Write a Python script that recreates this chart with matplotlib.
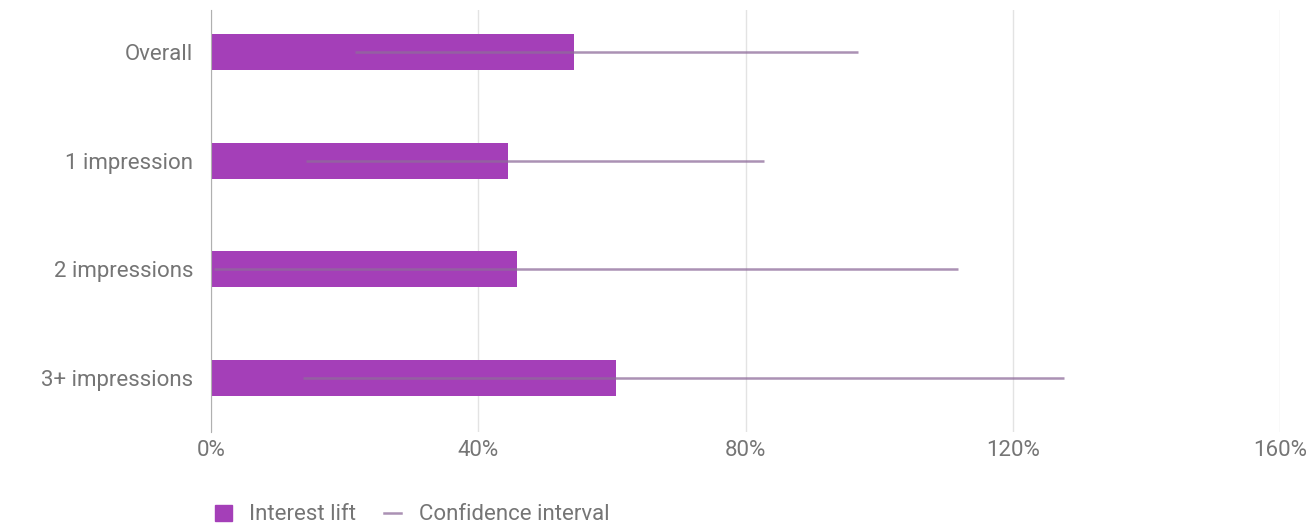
import matplotlib
matplotlib.use("Agg")
import matplotlib.pyplot as plt
from matplotlib.patches import Patch
from matplotlib.lines import Line2D

categories = ["Overall", "1 impression", "2 impressions", "3+ impressions"]
lift = [54.3, 44.5, 45.8, 60.6]
ci_low = [21.5, 14.2, 0.5, 13.7]
ci_high = [96.9, 82.8, 111.8, 127.6]
xticks = [0, 40, 80, 120, 160]

bar_color = "#a43fb8"
ci_color = "#8f6c9b"
text_color = "#757575"

plt.rcParams["font.family"] = ["Roboto", "DejaVu Sans"]

fig = plt.figure(figsize=(13.15, 5.26), dpi=100)
ax = fig.add_axes([0.1605, 0.1787, 0.8129, 0.8023])

ypos = list(range(len(categories)))
ax.barh(ypos, lift, height=0.33, color=bar_color, zorder=2)
ax.hlines(ypos, ci_low, ci_high, colors=ci_color, linewidth=1.8,
          alpha=0.75, zorder=3)

ax.set_xlim(0, 160)
ax.set_ylim(3.5, -0.39)
ax.set_xticks(xticks)
ax.set_xticklabels(["{}%".format(t) for t in xticks])
ax.set_yticks(ypos)
ax.set_yticklabels(categories)
ax.tick_params(axis="both", length=0, colors=text_color, labelsize=16)
ax.tick_params(axis="y", pad=13)
ax.tick_params(axis="x", pad=6)

ax.grid(axis="x", color="#e3e3e3", linewidth=1, zorder=0)
for s in ["top", "right", "bottom"]:
    ax.spines[s].set_visible(False)
ax.spines["left"].set_color("#b0b0b0")
ax.spines["left"].set_zorder(4)

handles = [Patch(color=bar_color, label="Interest lift"),
           Line2D([0], [0], color=ci_color, lw=1.8, alpha=0.75,
                  label="Confidence interval")]
leg = fig.legend(handles=handles, loc="center left",
                 bbox_to_anchor=(0.1635, 0.021), ncol=2, frameon=False,
                 fontsize=16, handlelength=0.75, handleheight=0.75,
                 handletextpad=0.8, columnspacing=1.25, borderpad=0,
                 borderaxespad=0)
for t in leg.get_texts():
    t.set_color(text_color)

fig.savefig("out.png", dpi=100)
